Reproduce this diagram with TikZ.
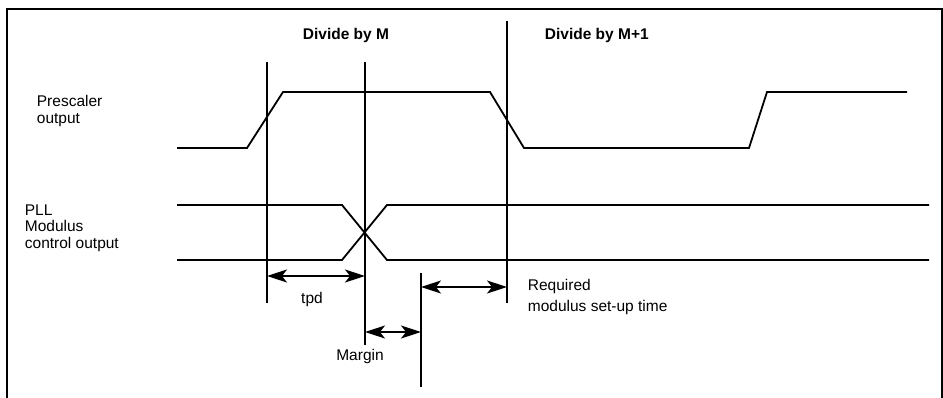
\documentclass[tikz,border=0pt]{standalone}
\usepackage{fontspec}
\setmainfont{Liberation Sans}
\usetikzlibrary{arrows.meta}

\tikzset{
    bigtip/.tip={Stealth[length=20pt,width=13pt,inset=5pt]}
}

\begin{document}
\begin{tikzpicture}[
    x=1pt, y=-1pt,
    line width=1.8pt,
    every node/.style={font=\fontsize{15.5}{16.5}\selectfont, inner sep=0pt, align=left, anchor=base west},
    heading/.style={font=\fontsize{15.5}{16.5}\selectfont\bfseries},
    marker/.style={line width=1.6pt},
    span/.style={bigtip-bigtip, line width=1.2pt}
]
\useasboundingbox (0,0) rectangle (943,397);
\draw[line width=1.6pt] (7,420) -- (7,9) -- (942,9) -- (942,420);

\node[heading] (divm) at (302,39) {Divide by M};
\node[heading] (divm1) at (544,39) {Divide by M+1};
\node (prescaler) at (36,123) {Prescaler\\output};
\node (pll) at (24,248) {PLL\\Modulus\\control output};
\node[anchor=base] (tpd) at (312,303) {tpd};
\node[anchor=base] (margin) at (360,360) {Margin};
\node[font=\fontsize{15.5}{21}\selectfont] (setup) at (527,311) {Required\\modulus set-up time};

\coordinate (v1t) at (267,62);  \coordinate (v1b) at (267,303);
\coordinate (v2t) at (365,62);  \coordinate (v2b) at (365,345);
\coordinate (v3t) at (507,21);  \coordinate (v3b) at (507,303);
\coordinate (v4t) at (421,273); \coordinate (v4b) at (421,387);
\foreach \v in {v1,v2,v3,v4}
    \draw[marker] (\v t) -- (\v b);

\draw (177,148) -- (247,148) -- (283,92) -- (490,92) -- (524,148)
    -- (749,148) -- (767,92) -- (907,92);
\draw (177,205) -- (342,205) -- (387,260) -- (929,260);
\draw (177,260) -- (342,260) -- (387,205) -- (929,205);

\draw[span] (v1t |- 0,276) -- (v2t |- 0,276);
\draw[span] (v4t |- 0,287) -- (v3t |- 0,287);
\draw[span] (v2t |- 0,332) -- (v4t |- 0,332);
\end{tikzpicture}
\end{document}
